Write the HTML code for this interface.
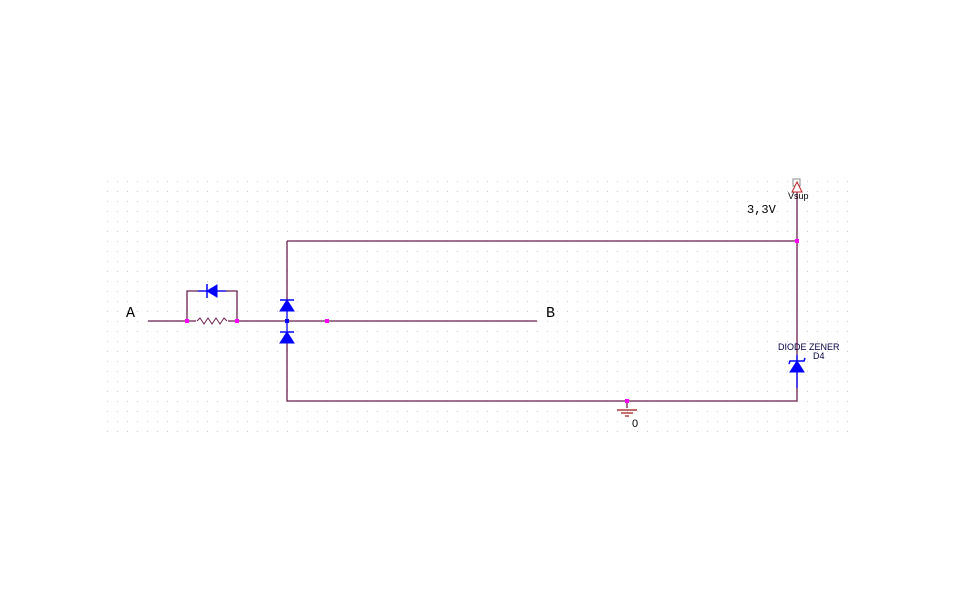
<!DOCTYPE html>
<html><head><meta charset="utf-8"><style>
html,body{margin:0;padding:0;background:#fff;width:959px;height:608px;overflow:hidden}
</style></head><body>
<svg width="959" height="608" xmlns="http://www.w3.org/2000/svg" font-family="Liberation Sans, sans-serif">
<defs>
<pattern id="g" x="7" y="1" width="10" height="10" patternUnits="userSpaceOnUse">
<rect x="0" y="0" width="1" height="1" fill="#c8c8c8"/>
</pattern>
</defs>
<rect x="107" y="181" width="741" height="251" fill="url(#g)"/>
<g stroke="#6b1f4f" stroke-width="1.3" fill="none">
<path d="M148 321H537"/>
<path d="M187 321V291H237V321"/>
<path d="M287 241H797V190"/>
<path d="M797 241V401H287V372"/>
<path d="M287 241V300"/>
<path d="M287 343V372"/>
<path d="M627 401V408"/>
</g>
<rect x="196" y="319" width="32" height="4" fill="#fff"/>
<polyline points="197,321 200,318 204,324 208,318 212,324 216,318 220,324 224,318 227,321" fill="none" stroke="#6b1f4f" stroke-width="1"/>
<g fill="#0000ff" stroke="#0000ff">
<line x1="198" y1="291" x2="226" y2="291" stroke-width="1.3"/>
<polygon points="207,291 217,285 217,297"/>
<line x1="207" y1="284" x2="207" y2="298" stroke-width="1.5"/>
<line x1="287" y1="300" x2="287" y2="343" stroke-width="1.3"/>
<polygon points="287,300 280,311 294,311"/>
<line x1="280" y1="300" x2="294" y2="300" stroke-width="1.5"/>
<polygon points="287,332 280,343 294,343"/>
<line x1="280" y1="332" x2="294" y2="332" stroke-width="1.5"/>
<line x1="797" y1="355" x2="797" y2="388" stroke-width="1.3"/>
<polygon points="797,361 790,372 804,372"/>
<path d="M789 364 L790 361 H804 L805 358" fill="none" stroke-width="1.5"/>
</g>
<g fill="#ff00ff">
<rect x="185" y="319" width="4" height="4"/><rect x="235" y="319" width="4" height="4"/>
<rect x="325" y="319" width="4" height="4"/><rect x="795" y="239" width="4" height="4"/>
<rect x="625" y="399" width="4" height="4"/>
</g>
<rect x="285" y="319" width="4" height="4" fill="#0000ff"/>
<g stroke="#a01010" stroke-width="1.2">
<line x1="617" y1="410" x2="637" y2="410"/><line x1="621" y1="413" x2="633" y2="413"/><line x1="625" y1="416" x2="629" y2="416"/>
</g>
<rect x="793" y="179" width="7" height="7" fill="none" stroke="#888"/>
<polygon points="797,182 792,192 802,192" fill="#fff" stroke="#c02020"/>
<text x="788" y="199" font-size="9" fill="#000">Vsup</text>
<text x="747" y="213" font-size="12" fill="#000" font-family="Liberation Mono, monospace">3,3V</text>
<text x="126" y="317" font-size="15" fill="#000" font-family="Liberation Mono, monospace">A</text>
<text x="546" y="317" font-size="15" fill="#000" font-family="Liberation Mono, monospace">B</text>
<text x="778" y="350" font-size="9" fill="#000040">DIODE ZENER</text>
<text x="813" y="359" font-size="9" fill="#000040">D4</text>
<text x="632" y="427" font-size="11" fill="#000">0</text>
</svg>
</body></html>
